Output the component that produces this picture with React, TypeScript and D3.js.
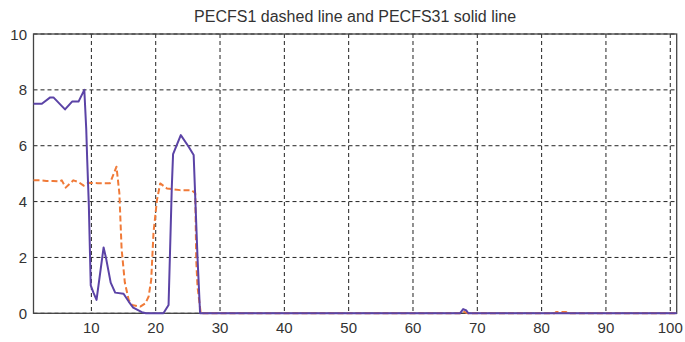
import React from "react";
import * as d3 from "d3";

const titleText = "PECFS1 dashed line and PECFS31 solid line";
const xTicks = [10, 20, 30, 40, 50, 60, 70, 80, 90, 100];
const yTicks = [0, 2, 4, 6, 8, 10];

const purpleX = [1, 2.3, 3.6, 4.1, 5.9, 7, 8, 8.9, 9.2, 9.35, 9.6, 9.9, 10.3, 10.8, 11.9, 12.3, 13, 13.7, 15, 15.8, 16.5, 17.85, 18.5, 21.2, 22, 22.5, 22.7, 23.9, 25.1, 25.9, 26.5, 26.9, 67.3, 67.8, 68.3, 68.6, 101];
const purpleY = [7.5, 7.5, 7.73, 7.73, 7.3, 7.58, 7.58, 8.0, 6.6, 5.5, 3.9, 1.0, 0.75, 0.48, 2.36, 1.95, 1.1, 0.74, 0.7, 0.42, 0.2, 0.04, 0, 0, 0.3, 4.5, 5.7, 6.38, 5.97, 5.67, 2.0, 0, 0, 0.15, 0.1, 0, 0];

const orangeX = [1, 2, 3, 4, 5, 5.4, 6, 7.2, 8, 8.8, 9.5, 11, 12.9, 13.9, 14.35, 14.7, 15.2, 15.8, 16.3, 17.6, 18.4, 18.9, 19.3, 19.66, 20.2, 20.7, 21.75, 23.8, 25.6, 26.15, 26.3, 26.5, 27, 67.5, 68, 68.5, 82, 82.3, 83.8, 84, 101];
const orangeY = [4.76, 4.76, 4.74, 4.74, 4.72, 4.76, 4.5, 4.76, 4.7, 4.57, 4.67, 4.66, 4.66, 5.25, 4.3, 2.3, 1.1, 0.48, 0.3, 0.24, 0.36, 0.6, 1.2, 2.9, 4.06, 4.65, 4.47, 4.41, 4.41, 4.3, 1.9, 0.95, 0, 0, 0.05, 0, 0, 0.05, 0.05, 0, 0];

const W = 685;
const H = 342;
const left = 33.5;
const right = 676.7;
const top = 34;
const bottom = 313.3;

export default function App() {
  const x = d3.scaleLinear().domain([1, 101]).range([left, right]);
  const y = d3.scaleLinear().domain([0, 10]).range([bottom, top]);
  const line = d3
    .line<[number, number]>()
    .x((d) => x(d[0]))
    .y((d) => y(d[1]));
  const purple = purpleX.map((v, i) => [v, purpleY[i]] as [number, number]);
  const orange = orangeX.map((v, i) => [v, orangeY[i]] as [number, number]);
  const font = "'Liberation Sans', Arial, sans-serif";
  return (
    <svg
      width={W}
      height={H}
      style={{ position: "fixed", left: 0, top: 0, background: "#fff" }}
    >
      <rect x={0} y={0} width={W} height={H} fill="#fff" />
      <text
        x={(left + right) / 2}
        y={22}
        textAnchor="middle"
        fontFamily={font}
        fontSize={16}
        fill="#333"
      >
        {titleText}
      </text>
      {xTicks.map((t) => (
        <line
          key={"gx" + t}
          x1={x(t)}
          x2={x(t)}
          y1={top}
          y2={bottom}
          stroke="#222"
          strokeWidth={1}
          strokeDasharray="4,3"
        />
      ))}
      {yTicks.map((t) => (
        <line
          key={"gy" + t}
          x1={left}
          x2={right}
          y1={y(t)}
          y2={y(t)}
          stroke="#222"
          strokeWidth={1}
          strokeDasharray="4,3"
        />
      ))}
      <rect
        x={left}
        y={top}
        width={right - left}
        height={bottom - top}
        fill="none"
        stroke="#444"
        strokeWidth={1.3}
      />
      <path
        d={line(orange) || ""}
        fill="none"
        stroke="#f07a38"
        strokeWidth={2}
        strokeDasharray="6,3"
        strokeLinejoin="round"
      />
      <path
        d={line(purple) || ""}
        fill="none"
        stroke="#5b43a6"
        strokeWidth={2}
        strokeLinejoin="round"
      />
      {xTicks.map((t) => (
        <text
          key={"tx" + t}
          x={x(t)}
          y={333}
          textAnchor="middle"
          fontFamily={font}
          fontSize={15}
          fill="#333"
        >
          {t}
        </text>
      ))}
      {yTicks.map((t) => (
        <text
          key={"ty" + t}
          x={27}
          y={y(t) + 5.5}
          textAnchor="end"
          fontFamily={font}
          fontSize={15}
          fill="#333"
        >
          {t}
        </text>
      ))}
    </svg>
  );
}
